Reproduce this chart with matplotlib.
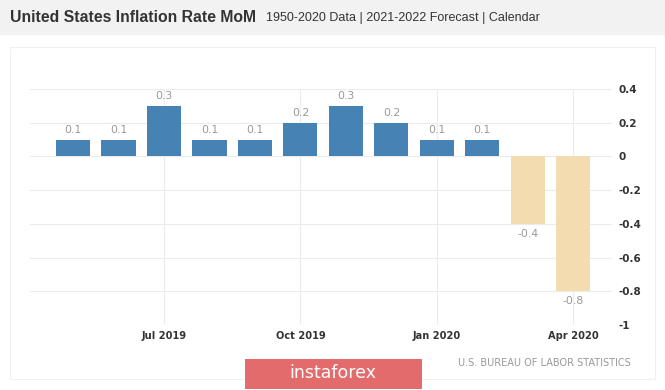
import matplotlib.pyplot as plt
from matplotlib.patches import Rectangle

months = ["May 2019", "Jun 2019", "Jul 2019", "Aug 2019", "Sep 2019", "Oct 2019",
          "Nov 2019", "Dec 2019", "Jan 2020", "Feb 2020", "Mar 2020", "Apr 2020"]
values = [0.1, 0.1, 0.3, 0.1, 0.1, 0.2, 0.3, 0.2, 0.1, 0.1, -0.4, -0.8]
tick_labels = ["Jul 2019", "Oct 2019", "Jan 2020", "Apr 2020"]
y_ticks = [0.4, 0.2, 0, -0.2, -0.4, -0.6, -0.8, -1]

W, H = 665, 390
fig = plt.figure(figsize=(W / 100, H / 100), dpi=100, facecolor="white")


def px(x0, y0, x1, y1):
    # pixel box (top-left origin) -> figure fraction rect
    return [x0 / W, 1 - y1 / H, (x1 - x0) / W, (y1 - y0) / H]


# header band and chart frame
fig.patches.append(Rectangle((0, 1 - 35 / H), 1, 35 / H, transform=fig.transFigure,
                             facecolor="#f2f2f2", edgecolor="none", zorder=-2))
b = px(10, 47, 655, 379)
fig.patches.append(Rectangle((b[0], b[1]), b[2], b[3], transform=fig.transFigure,
                             facecolor="white", edgecolor="#f0f0f0", lw=0.8, zorder=-2))

fig.text(10 / W, 1 - 18 / H, "United States Inflation Rate MoM", family="Liberation Sans",
         weight="bold", fontsize=11.3, color="#333333", va="center", ha="left")
fig.text(266 / W, 1 - 18 / H, "1950-2020 Data | 2021-2022 Forecast | Calendar",
         family="Liberation Sans", fontsize=9.0, color="#333333", va="center", ha="left")

ax = fig.add_axes(px(30, 89, 612, 325))
ax.set_zorder(1)
x = list(range(len(months)))
colors = ["#4682b4" if v >= 0 else "#f3dcb0" for v in values]
bars = ax.bar(x, values, width=0.75, color=colors, zorder=2)
ax.bar_label(bars, fmt="%g", padding=3.5, fontsize=7.8, color="#999999")

ax.set_xlim(-0.945, 11.85)
ax.set_ylim(-1, 0.4)
ax.set_xticks([months.index(t) for t in tick_labels])
ax.set_xticklabels(tick_labels)
ax.set_yticks(y_ticks)
ax.set_yticklabels(["%g" % t for t in y_ticks])
ax.yaxis.tick_right()
ax.tick_params(length=0, labelsize=7.5, colors="#333333")
ax.tick_params(axis="y", pad=5)
ax.tick_params(axis="x", pad=4, labelsize=7.1)
for lab in ax.get_xticklabels() + ax.get_yticklabels():
    lab.set_fontweight("semibold")
ax.grid(True, color="#ececec", lw=0.8, zorder=0)
for s in ax.spines.values():
    s.set_visible(False)
ax.set_facecolor("none")

fig.text(631 / W, 1 - 363 / H, "U.S. BUREAU OF LABOR STATISTICS", fontsize=7.0,
         color="#999999", ha="right", va="center")

# watermark badge
r = px(245, 359, 422, 389)
fig.patches.append(Rectangle((r[0], r[1]), r[2], r[3], transform=fig.transFigure,
                             facecolor="#e36b6b", edgecolor="none", zorder=3))
fig.text(333 / W, 1 - 373 / H, "instaforex", fontsize=12.5, color="white",
         ha="center", va="center", zorder=4)

fig.savefig("out.png", dpi=100, facecolor="white")
